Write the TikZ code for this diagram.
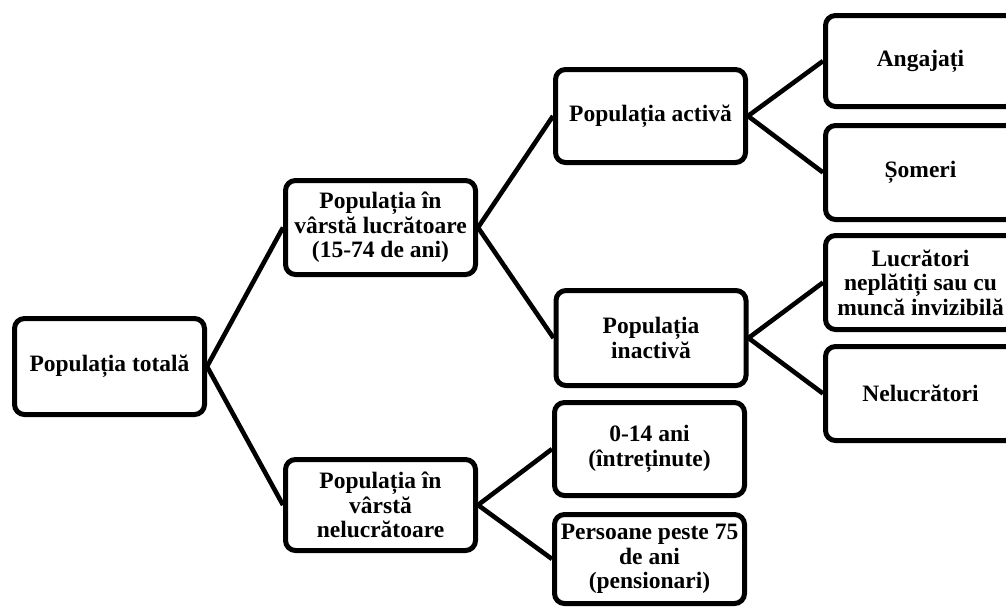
\documentclass[tikz,border=0pt]{standalone}
\usepackage{fontspec}
\setmainfont{Liberation Serif}
\begin{document}
\begin{tikzpicture}[x=1pt,y=-1pt,
  box/.style={draw=black, line width=5pt, rounded corners=10pt, fill=white,
    align=center, inner sep=1pt, minimum width=190pt,
    font=\fontsize{23.5}{24.6}\selectfont\bfseries},
  conn/.style={line width=4.6pt}]
\useasboundingbox (0,0) rectangle (1006,606);
\clip (0,0) rectangle (1006,606);
\node[box, minimum height=96pt] (tot) at (109.5,366.5) {Populația totală};
\node[box, minimum height=94pt] (lucr) at (380.5,227.5) {Populația în\\vârstă lucrătoare\\(15-74 de ani)};
\node[box, minimum height=91pt] (nelucr) at (380.5,505) {Populația în\\vârstă\\nelucrătoare};
\node[box, minimum height=93pt] (act) at (650.5,116) {Populația activă};
\node[box, minimum height=95pt] (inact) at (651,338) {Populația\\inactivă};
\node[box, minimum height=93pt] (c014) at (649.5,449) {0-14 ani\\(întreținute)};
\node[box, minimum height=89pt] (pers) at (649.5,559) {Persoane peste 75\\de ani\\(pensionari)};
\node[box, minimum height=91pt] (ang) at (920.5,61) {Angajați};
\node[box, minimum height=94pt] (som) at (920.5,172.5) {Șomeri};
\node[box, minimum height=94pt] (luc) at (920.5,282.5) {Lucrători\\neplătiți sau cu\\muncă invizibilă};
\node[box, minimum height=94pt] (nel) at (920.5,393.5) {Nelucrători};
\draw[conn] (tot.east) -- (lucr.west);
\draw[conn] (tot.east) -- (nelucr.west);
\draw[conn] (lucr.east) -- (act.west);
\draw[conn] (lucr.east) -- (inact.west);
\draw[conn] (nelucr.east) -- (c014.west);
\draw[conn] (nelucr.east) -- (pers.west);
\draw[conn] (act.east) -- (ang.west);
\draw[conn] (act.east) -- (som.west);
\draw[conn] (inact.east) -- (luc.west);
\draw[conn] (inact.east) -- (nel.west);
\end{tikzpicture}
\end{document}
